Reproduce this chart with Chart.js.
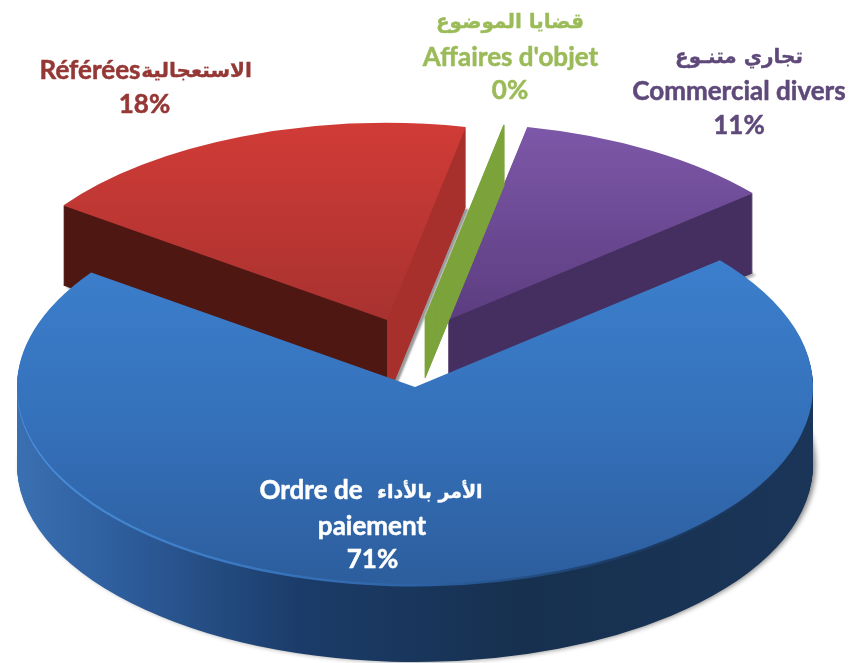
<!DOCTYPE html>
<html>
<head>
<meta charset="utf-8">
<style>html,body{margin:0;padding:0;background:#fff}canvas{display:block}</style>
<script src="https://cdn.jsdelivr.net/npm/chart.js@4"></script>
</head>
<body>
<canvas id="c" width="850" height="663"></canvas>
<script>
const categories = ["Ordre de paiement", "Référées", "Affaires d'objet", "Commercial divers"];
const values = [71, 18.3, 0.02, 10.7];
const percentLabels = ["71%", "18%", "0%", "11%"];
const arabicLabels = ["الأمر بالأداء", "الاستعجالية", "قضايا الموضوع", "تجاري متنـوع"];

const RATIO = 0.495;
const style = [
  {apex:[415,387], depth:78, top:[[260,'#3c7fcc'],[420,'#3571bb'],[590,'#2c5d9c']],
   wall:[[17,'#3a70b2'],[110,'#2f5f9f'],[300,'#1b3c69'],[520,'#17304f'],[815,'#1a3558']],
   shadow:['rgba(0,0,0,0.45)',5,3,0],
   rim:[[17,'#4a90dc'],[240,'#3a78c2'],[420,'#2c62a4'],[620,'#1c3c66'],[815,'#1a3558']]},
  {apex:[387,320], depth:80, top:[[127,'#d03b36'],[320,'#a83230']],
   wall:[[-13,'#4f1712'],[386.9,'#4f1712'],[387.1,'#a8302c'],[787,'#a8302c']],
   shadow:['rgba(0,0,0,0.4)',2,3,2]},
  {apex:[425,318], depth:60, edge:1, top:[[127,'#7ba33a'],[320,'#7ba33a']],
   wall:[[25,'#7ba33a'],[825,'#7ba33a']]},
  {apex:[448,320], depth:80, top:[[129,'#7d57a8'],[320,'#5c3d80']],
   wall:[[48,'#452e60'],[848,'#452e60']],
   shadow:['rgba(0,0,0,0.35)',3,3,2]}
];
const drawOrder = [1,3,2,0];

const textStyle = [
  {color:'#ffffff', latin:[["Ordre de",311,499],["paiement",372,535]], arabic:[430,498,19], pct:[372.5,568]},
  {color:'#953735', latin:[["Référées",90,79]], arabic:[196.5,77,20], pct:[144.5,113]},
  {color:'#9bbb59', latin:[["Affaires d'objet",510.5,66]], arabic:[510,28,20], pct:[510,99]},
  {color:'#5f497a', latin:[["Commercial divers",739,100]], arabic:[739,63,20], pct:[739,134]}
];

const pie3d = {
  id:'pie3d',
  beforeDatasetsDraw(chart){
    const ctx = chart.ctx;
    const meta = chart.getDatasetMeta(0);
    const pxX = (arc,s,px)=>arc.x+(px-s.apex[0]);
    const pxY = (arc,s,py)=>arc.y+(py-s.apex[1])/RATIO;
    const hGrad=(arc,s,stops)=>{
      const a=stops[0][0], b=stops[stops.length-1][0];
      const g=ctx.createLinearGradient(pxX(arc,s,a),0,pxX(arc,s,b),0);
      stops.forEach(t=>g.addColorStop((t[0]-a)/(b-a),t[1]));
      return g;
    };
    const vGrad=(arc,s,stops)=>{
      const a=stops[0][0], b=stops[stops.length-1][0];
      const g=ctx.createLinearGradient(0,pxY(arc,s,a),0,pxY(arc,s,b));
      stops.forEach(t=>g.addColorStop((t[0]-a)/(b-a),t[1]));
      return g;
    };
    const paint=(arc,s,fill,dy)=>{
      const saved=arc.options;
      arc.options=Object.assign({},saved,{backgroundColor:fill,borderWidth:s.edge||0,borderColor:s.edge?fill:'transparent'});
      ctx.save();
      if(arc._shadow){
        ctx.shadowColor=arc._shadow[0];ctx.shadowBlur=arc._shadow[1];
        ctx.shadowOffsetX=arc._shadow[2];ctx.shadowOffsetY=arc._shadow[3];
      }
      ctx.translate(s.apex[0],s.apex[1]+dy);
      ctx.scale(1,RATIO);
      ctx.translate(-arc.x,-arc.y);
      arc.draw(ctx);
      ctx.restore();
      arc.options=saved;
    };
    drawOrder.forEach(i=>{
      const arc=meta.data[i], s=style[i];
      const wall=hGrad(arc,s,s.wall);
      for(let d=s.depth;d>=1;d--){
        arc._shadow=(d===s.depth)?s.shadow:null;
        paint(arc,s,wall,d);
      }
      arc._shadow=null;
      if(s.rim) paint(arc,s,hGrad(arc,s,s.rim),2.5);
      paint(arc,s,vGrad(arc,s,s.top),0);
    });
    return false;
  },
  afterDraw(chart){
    const ctx=chart.ctx;
    ctx.save();
    ctx.textAlign='center';
    ctx.textBaseline='alphabetic';
    ctx.lineJoin='round';
    textStyle.forEach((t,i)=>{
      ctx.fillStyle=t.color;
      ctx.strokeStyle=t.color;
      ctx.lineWidth=0.5;
      ctx.font='bold 26px Lato, Carlito, "Open Sans", sans-serif';
      t.latin.forEach(l=>{ctx.fillText(l[0],l[1],l[2]);ctx.strokeText(l[0],l[1],l[2]);});
      ctx.fillText(percentLabels[i],t.pct[0],t.pct[1]);
      ctx.strokeText(percentLabels[i],t.pct[0],t.pct[1]);
      ctx.font='bold '+t.arabic[2]+'px "DejaVu Sans", "Noto Sans", sans-serif';
      ctx.direction='rtl';
      ctx.lineWidth=0.35;
      ctx.fillText(arabicLabels[i],t.arabic[0],t.arabic[1]);
      ctx.strokeText(arabicLabels[i],t.arabic[0],t.arabic[1]);
      ctx.direction='ltr';
    });
    ctx.restore();
  }
};

new Chart(document.getElementById('c'),{
  type:'pie',
  data:{labels:categories,datasets:[{data:values,backgroundColor:['#3571bb','#c03733','#7ba33a','#6d4b95'],borderWidth:0}]},
  options:{
    responsive:false,animation:false,
    rotation:50,
    radius:398,
    layout:{padding:0},
    events:[],
    plugins:{legend:{display:false},tooltip:{enabled:false},title:{display:false}}
  },
  plugins:[pie3d]
});
</script>
</body>
</html>
